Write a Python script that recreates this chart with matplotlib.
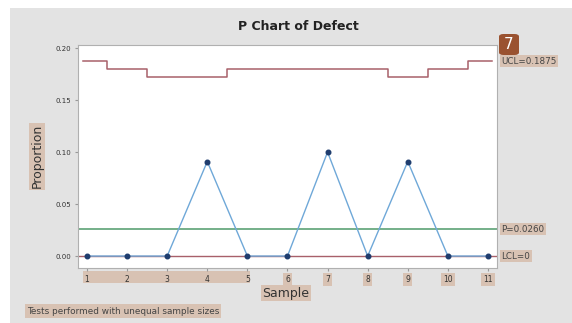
import matplotlib
matplotlib.use("Agg")
import matplotlib.pyplot as plt
from matplotlib.patches import Rectangle, FancyBboxPatch

# values
samples = [1, 2, 3, 4, 5, 6, 7, 8, 9, 10, 11]
proportion = [0.0, 0.0, 0.0, 0.0909, 0.0, 0.0, 0.10, 0.0, 0.0909, 0.0, 0.0]
ucl = [0.1875, 0.1803, 0.1721, 0.1721, 0.1803, 0.1803, 0.1803, 0.1803, 0.1721, 0.1803, 0.1875]
center = 0.026
lcl = 0.0
y_ticks = [0.00, 0.05, 0.10, 0.15, 0.20]
y_tick_labels = ["0.00", "0.05", "0.10", "0.15", "0.20"]

beige = "#d8c2b3"
panel = "#e3e3e3"

fig = plt.figure(figsize=(5.72, 3.23), dpi=100)
fig.patch.set_facecolor("white")
# grey panel behind the chart
fig.add_artist(Rectangle((10 / 572, 0), 1, 1 - 8 / 323, transform=fig.transFigure,
                         facecolor=panel, edgecolor="none", zorder=-5))

ax = fig.add_axes([78 / 572, 55 / 323, 419 / 572, 223 / 323])
ax.set_facecolor("white")

# UCL as steps around each sample
xs, ys = [], []
for s, u in zip(samples, ucl):
    xs += [s - 0.5, s + 0.5]
    ys += [u, u]
xs[0] = samples[0] - 0.1
xs[-1] = samples[-1] + 0.1
ax.plot(xs, ys, color="#a8606a", lw=1.1)
ax.axhline(center, color="#4e9a6a", lw=1.1)
ax.axhline(lcl, color="#a8606a", lw=1.0)
ax.plot(samples, proportion, color="#6fa8d8", lw=1.0, marker="o",
        markersize=3.3, markerfacecolor="#1f3d6e", markeredgecolor="#1f3d6e")

ax.set_xlim(0.776, 11.225)
ax.set_ylim(-0.0115, 0.203)
ax.set_xticks(samples)
ax.set_xticklabels([str(s) for s in samples], fontsize=5.5, color="#333333")
ax.set_yticks(y_ticks)
ax.set_yticklabels(y_tick_labels, fontsize=5, color="#333333")
ax.tick_params(length=2, color="#999999", pad=3)
for i, lab in enumerate(ax.get_xticklabels()):
    if i >= 5:
        lab.set_bbox(dict(facecolor=beige, edgecolor="none", pad=1.5))
for sp in ax.spines.values():
    sp.set_color("#b0b0b0")
    sp.set_linewidth(0.8)

# highlight band under first ticks
fig.add_artist(Rectangle((83 / 572, 1 - 283 / 323), 167 / 572, 12 / 323,
                         transform=fig.transFigure, facecolor=beige,
                         edgecolor="none", zorder=-1))

fig.text(298 / 572, 1 - 26 / 323, "P Chart of Defect", ha="center", va="center",
         fontsize=9, fontweight="bold", color="#222222")
fig.text(286 / 572, 1 - 293 / 323, "Sample", ha="center", va="center",
         fontsize=9, color="#333333",
         bbox=dict(facecolor=beige, edgecolor="none", pad=1.2))
fig.text(37 / 572, 1 - 156 / 323, "Proportion", ha="center", va="center",
         rotation=90, fontsize=9, color="#333333",
         bbox=dict(facecolor=beige, edgecolor="none", pad=1.0))

trans = ax.get_yaxis_transform()
ax.text(1.01, ucl[-1], "UCL=0.1875", transform=trans, ha="left", va="center",
        fontsize=6.3, color="#444444",
        bbox=dict(facecolor=beige, edgecolor="none", pad=1.2), clip_on=False)
ax.text(1.01, center, "P\u0304=0.0260", transform=trans, ha="left", va="center",
        fontsize=6.3, color="#444444",
        bbox=dict(facecolor=beige, edgecolor="none", pad=1.2), clip_on=False)
ax.text(1.01, lcl, "LCL=0", transform=trans, ha="left", va="center",
        fontsize=6.3, color="#444444",
        bbox=dict(facecolor=beige, edgecolor="none", pad=1.2), clip_on=False)

fig.text(27 / 572, 1 - 311 / 323, "Tests performed with unequal sample sizes",
         ha="left", va="center", fontsize=6.4, color="#444444",
         bbox=dict(facecolor=beige, edgecolor="none", pad=1.5))

# numbered badge, square with rounded corners
fig.add_artist(FancyBboxPatch((499 / 572, 1 - 55 / 323), 20 / 572, 21 / 323,
                              boxstyle="round,pad=0,rounding_size=0.008",
                              transform=fig.transFigure, facecolor="#9a5230",
                              edgecolor="none", zorder=3))
fig.text(509 / 572, 1 - 44.5 / 323, "7", ha="center", va="center", fontsize=11,
         color="white", zorder=4)

fig.savefig("out.png", dpi=100)
